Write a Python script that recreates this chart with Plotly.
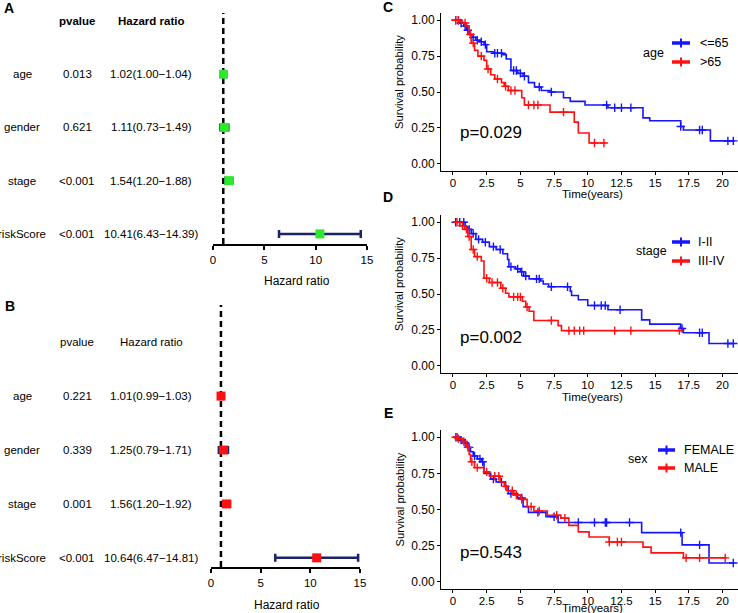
import bisect
import plotly.graph_objects as go

W, H = 738, 613

# ---------------- Data ----------------
variables = ["age", "gender", "stage", "riskScore"]

uni_pvalue = ["0.013", "0.621", "<0.001", "<0.001"]
uni_hr = [1.02, 1.11, 1.54, 10.41]
uni_lo = [1.00, 0.73, 1.20, 6.43]
uni_hi = [1.04, 1.49, 1.88, 14.39]

multi_pvalue = ["0.221", "0.339", "0.001", "<0.001"]
multi_hr = [1.01, 1.25, 1.56, 10.64]
multi_lo = [0.99, 0.79, 1.20, 6.47]
multi_hi = [1.03, 1.71, 1.92, 14.81]

forest_ticks = [0, 5, 10, 15]

km_tickvals = [0, 2.5, 5, 7.5, 10, 12.5, 15, 17.5, 20]
km_ticktext = ["0", "2.5", "5", "7.5", "10", "12.5", "15", "17.5", "20"]
surv_tickvals = [0, 0.25, 0.5, 0.75, 1.0]
surv_ticktext = ["0.00", "0.25", "0.50", "0.75", "1.00"]

# Panel C: age
age_le65_time = [0, 0.5, 0.8, 1.0, 1.2, 1.4, 1.7, 2.0, 2.3, 2.5, 3.0, 3.7, 3.95, 4.3, 4.8, 5.2, 5.6,
                 6.05, 6.55, 7.2, 8.2, 8.7, 9.8, 11.5, 14.1, 14.6, 16.9, 17.1, 19.1, 20.9]
age_le65_surv = [1.0, 0.98, 0.96, 0.93, 0.90, 0.88, 0.86, 0.85, 0.83, 0.78, 0.77, 0.76, 0.73, 0.65, 0.63,
                 0.61, 0.565, 0.535, 0.51, 0.50, 0.46, 0.435, 0.41, 0.39, 0.32, 0.30, 0.26, 0.235, 0.16, 0.16]
age_le65_cens = [0.2, 0.4, 0.6, 0.9, 1.1, 1.5, 1.8, 2.1, 2.4, 3.1, 3.3, 3.6, 4.5, 4.7, 5.0, 5.3, 6.4,
                 7.3, 11.4, 12.0, 12.5, 13.2, 16.9, 18.3, 18.5, 20.4, 20.8]
age_gt65_time = [0, 0.5, 0.7, 1.0, 1.2, 1.35, 1.6, 1.85, 2.3, 2.5, 2.8, 3.1, 3.6, 3.8, 4.1, 5.1, 5.3,
                 7.2, 9.0, 9.3, 10.1, 11.3]
age_gt65_surv = [1.0, 0.99, 0.98, 0.96, 0.90, 0.84, 0.79, 0.75, 0.72, 0.66, 0.62, 0.59, 0.565, 0.54,
                 0.51, 0.46, 0.41, 0.36, 0.29, 0.215, 0.145, 0.145]
age_gt65_cens = [0.2, 0.4, 0.9, 1.3, 1.5, 2.1, 2.6, 3.3, 3.9, 4.3, 4.6, 5.6, 6.0, 6.3, 8.2, 10.5, 11.2]

# Panel D: stage
stage_12_time = [0, 0.9, 1.1, 1.35, 1.7, 2.2, 2.7, 3.2, 3.7, 4.05, 4.15, 4.65, 5.0, 5.25, 5.65, 6.5,
                 6.7, 7.1, 8.7, 8.8, 9.3, 10.0, 11.5, 14.0, 14.6, 16.9, 17.1, 19.0, 20.9]
stage_12_surv = [1.0, 0.97, 0.95, 0.92, 0.88, 0.86, 0.83, 0.81, 0.78, 0.74, 0.69, 0.675, 0.655, 0.625,
                 0.605, 0.59, 0.57, 0.55, 0.52, 0.49, 0.46, 0.42, 0.39, 0.32, 0.29, 0.26, 0.23, 0.155, 0.155]
stage_12_cens = [0.2, 0.5, 0.8, 1.2, 1.5, 1.9, 2.4, 3.0, 3.5, 4.3, 4.8, 5.1, 5.4, 6.2, 6.4, 7.3, 8.5,
                 10.5, 11.0, 11.3, 12.4, 17.0, 18.3, 18.5, 20.4, 20.8]
stage_34_time = [0, 0.5, 0.85, 1.1, 1.35, 1.6, 2.1, 2.3, 2.7, 3.55, 3.9, 4.15, 5.15, 5.4, 5.65, 6.0,
                 7.8, 8.05, 16.9]
stage_34_surv = [1.0, 0.975, 0.95, 0.90, 0.81, 0.76, 0.73, 0.61, 0.58, 0.54, 0.505, 0.48, 0.45, 0.41,
                 0.38, 0.315, 0.28, 0.245, 0.245]
stage_34_cens = [0.3, 0.7, 1.0, 1.2, 1.5, 1.8, 2.5, 2.9, 3.3, 3.7, 4.5, 4.8, 5.0, 5.5, 7.3, 8.6, 9.0,
                 9.4, 9.7, 12.0, 13.2, 16.8]

# Panel E: sex
female_time = [0, 0.5, 0.9, 1.1, 1.3, 1.5, 1.8, 2.1, 2.3, 2.8, 3.2, 3.9, 4.1, 4.8, 5.2, 5.6, 6.9, 7.8,
               14.0, 17.0, 19.0, 20.9]
female_surv = [1.0, 0.98, 0.96, 0.93, 0.90, 0.87, 0.85, 0.83, 0.75, 0.71, 0.69, 0.66, 0.61, 0.58, 0.52,
               0.48, 0.45, 0.41, 0.34, 0.255, 0.13, 0.13]
female_cens = [0.3, 0.6, 0.9, 1.2, 1.6, 2.0, 2.2, 3.0, 3.6, 4.3, 5.1, 6.3, 7.5, 9.3, 10.5, 11.3, 11.4,
               13.1, 16.9, 18.3, 20.8]
male_time = [0, 0.3, 0.7, 1.0, 1.2, 1.3, 1.6, 2.3, 2.7, 3.5, 3.8, 4.0, 4.5, 5.0, 5.5, 6.0, 7.0, 8.0,
             8.6, 9.3, 10.1, 11.6, 14.1, 14.7, 17.1, 20.3]
male_surv = [1.0, 0.99, 0.97, 0.93, 0.88, 0.83, 0.79, 0.76, 0.73, 0.69, 0.66, 0.63, 0.60, 0.57, 0.52,
             0.49, 0.46, 0.44, 0.39, 0.345, 0.31, 0.275, 0.24, 0.20, 0.165, 0.165]
male_cens = [0.2, 0.4, 0.8, 1.1, 1.4, 1.8, 2.5, 3.1, 3.4, 3.9, 4.4, 4.7, 5.1, 5.8, 6.4, 7.7, 8.3, 11.6,
             12.2, 12.5, 17.3, 18.3, 20.2]

p_values = ["p=0.029", "p=0.002", "p=0.543"]

# ---------------- Styles ----------------
FONT = "Liberation Sans, Arial, sans-serif"
BLUE = "#1515ff"
RED = "#ff1010"
GREEN = "#2ee82e"
NAVY = "#1b2266"


def px(x):
    return x / W


def py(y):
    return 1 - y / H


def esc(s):
    return s.replace("<", "&lt;").replace(">", "&gt;")


def surv_at(times, surv, t):
    i = bisect.bisect_right(times, t) - 1
    return surv[max(i, 0)]


fig = go.Figure()
annotations = []
shapes = []

# ---------------- Forest plots ----------------
forest_specs = [
    dict(xa="x", ya="y", hr=uni_hr, lo=uni_lo, hi=uni_hi, p=uni_pvalue, color=GREEN, bold=True),
    dict(xa="x2", ya="y2", hr=multi_hr, lo=multi_lo, hi=multi_hi, p=multi_pvalue, color=RED, bold=False),
]
n = len(variables)
rows = [n - i for i in range(n)]
for spec in forest_specs:
    hr, lo, hi = spec["hr"], spec["lo"], spec["hi"]
    fig.add_trace(go.Scatter(
        x=hr, y=rows, mode="markers", xaxis=spec["xa"], yaxis=spec["ya"], showlegend=False,
        cliponaxis=False,
        marker=dict(symbol="square", size=9, color=spec["color"]),
        error_x=dict(type="data", symmetric=False,
                     array=[h - m for h, m in zip(hi, hr)],
                     arrayminus=[m - l for m, l in zip(hr, lo)],
                     color=NAVY, thickness=2.5, width=4),
    ))
    shapes.append(dict(type="line", xref=spec["xa"], yref=spec["ya"] + " domain", x0=1, x1=1, y0=0, y1=1,
                       line=dict(color="black", width=2.5, dash="6px,4px"), layer="below"))
    hdr = (lambda s: "<b>" + s + "</b>") if spec["bold"] else (lambda s: s)
    for xpos, txt in [(77, hdr("pvalue")), (151, hdr("Hazard ratio"))]:
        annotations.append(dict(xref="paper", yref=spec["ya"], x=px(xpos), y=5.0, text=txt, showarrow=False,
                                xanchor="center", yanchor="middle", font=dict(size=11.5, color="black")))
    for i, v in enumerate(variables):
        r = rows[i]
        annotations.append(dict(xref="paper", yref=spec["ya"], x=px(22), y=r, text=v, showarrow=False,
                                xanchor="center", yanchor="middle", font=dict(size=11.5, color="black")))
        annotations.append(dict(xref="paper", yref=spec["ya"], x=px(77), y=r, text=esc(spec["p"][i]),
                                showarrow=False, xanchor="center", yanchor="middle",
                                font=dict(size=11.5, color="black")))
        hrtxt = f"{hr[i]:.2f}({lo[i]:.2f}\u2212{hi[i]:.2f})"
        annotations.append(dict(xref="paper", yref=spec["ya"], x=px(151), y=r, text=hrtxt, showarrow=False,
                                xanchor="center", yanchor="middle", font=dict(size=11.5, color="black")))

# forest axis titles
annotations.append(dict(xref="paper", yref="paper", x=px(297), y=py(281), text="Hazard ratio",
                        showarrow=False, xanchor="center", yanchor="middle", font=dict(size=12, color="black")))
annotations.append(dict(xref="paper", yref="paper", x=px(287), y=py(605), text="Hazard ratio",
                        showarrow=False, xanchor="center", yanchor="middle", font=dict(size=12, color="black")))

# ---------------- KM plots ----------------
km_specs = [
    dict(xa="x3", ya="y3", title="age",
         groups=[("<=65", age_le65_time, age_le65_surv, age_le65_cens, BLUE),
                 (">65", age_gt65_time, age_gt65_surv, age_gt65_cens, RED)]),
    dict(xa="x4", ya="y4", title="stage",
         groups=[("I-II", stage_12_time, stage_12_surv, stage_12_cens, BLUE),
                 ("III-IV", stage_34_time, stage_34_surv, stage_34_cens, RED)]),
    dict(xa="x5", ya="y5", title="sex",
         groups=[("FEMALE", female_time, female_surv, female_cens, BLUE),
                 ("MALE", male_time, male_surv, male_cens, RED)]),
]
for spec in km_specs:
    for name, t, s, c, col in spec["groups"]:
        fig.add_trace(go.Scatter(x=t, y=s, mode="lines", line=dict(color=col, width=1.6, shape="hv"),
                                 xaxis=spec["xa"], yaxis=spec["ya"], showlegend=False, name=name))
        fig.add_trace(go.Scatter(x=c, y=[surv_at(t, s, ct) for ct in c], mode="markers",
                                 marker=dict(symbol="cross-thin", size=6, line=dict(color=col, width=1.4)),
                                 xaxis=spec["xa"], yaxis=spec["ya"], showlegend=False, name=name))

# ---------------- Layout ----------------
def forest_x(dom):
    return dict(domain=dom, range=[0, 15], tickvals=forest_ticks, ticks="outside", ticklen=4, tickwidth=1.5,
                tickcolor="black", showline=True, linecolor="black", linewidth=1.5, showgrid=False,
                zeroline=False, tickfont=dict(size=11.5, color="black"))


def forest_y(dom, rng):
    return dict(domain=dom, range=rng, visible=False, showgrid=False, zeroline=False)


def km_x(anchor):
    return dict(domain=[px(441), 1.0], range=[-0.89, 21.15], tickvals=km_tickvals, ticktext=km_ticktext,
                ticks="outside", ticklen=3, tickcolor="black", tickwidth=1, showline=True, linecolor="black",
                linewidth=1, showgrid=False, zeroline=False, tickfont=dict(size=11.5, color="black"),
                ticklabelstandoff=-2, anchor=anchor)


def km_y(dom, anchor):
    return dict(domain=dom, range=[-0.05, 1.05], tickvals=surv_tickvals, ticktext=surv_ticktext,
                ticks="outside", ticklen=3, tickcolor="black", tickwidth=1, showline=True, linecolor="black",
                linewidth=1, showgrid=False, zeroline=False, tickfont=dict(size=12, color="black"),
                anchor=anchor)


# positions (pixels) of each KM panel's decorations
km_layout = [
    dict(top=13, bot=171, tx=653, ty=53, pyv=133, letter="C", ly=7, timey=194,
         kx0=672, kx1=690, ky=[43, 62], lblx=698),
    dict(top=215, bot=373, tx=651, ty=251, pyv=337, letter="D", ly=197, timey=397,
         kx0=672, kx1=690, ky=[242, 261], lblx=696),
    dict(top=430, bot=589, tx=638, ty=459, pyv=552, letter="E", ly=413, timey=608,
         kx0=658, kx1=675, ky=[450, 468], lblx=682),
]
for k, spec, pv in zip(km_layout, km_specs, p_values):
    annotations.append(dict(xref="paper", yref="paper", x=px(k["tx"]), y=py(k["ty"]), text=spec["title"],
                            showarrow=False, xanchor="center", yanchor="middle",
                            font=dict(size=12.5, color="black")))
    # legend keys (line with censor cross) and labels
    for (name, t, s, c, col), ky in zip(spec["groups"], k["ky"]):
        xm = (k["kx0"] + k["kx1"]) / 2
        shapes.append(dict(type="line", xref="paper", yref="paper", x0=px(k["kx0"]), x1=px(k["kx1"]),
                           y0=py(ky), y1=py(ky), line=dict(color=col, width=3.5)))
        shapes.append(dict(type="line", xref="paper", yref="paper", x0=px(xm), x1=px(xm),
                           y0=py(ky - 4.5), y1=py(ky + 4.5), line=dict(color=col, width=2)))
        annotations.append(dict(xref="paper", yref="paper", x=px(k["lblx"]), y=py(ky), text=esc(name),
                                showarrow=False, xanchor="left", yanchor="middle",
                                font=dict(size=12.5, color="black")))
    annotations.append(dict(xref="paper", yref="paper", x=px(491), y=py(k["pyv"]), text=pv,
                            showarrow=False, xanchor="center", yanchor="middle",
                            font=dict(size=17, color="black")))
    annotations.append(dict(xref="paper", yref="paper", x=px(388), y=py(k["ly"]), text="<b>" + k["letter"] + "</b>",
                            showarrow=False, xanchor="center", yanchor="middle",
                            font=dict(size=14, color="black")))
    annotations.append(dict(xref="paper", yref="paper", x=px(592), y=py(k["timey"]), text="Time(years)",
                            showarrow=False, xanchor="center", yanchor="middle",
                            font=dict(size=11.5, color="black")))
    annotations.append(dict(xref="paper", yref="paper", x=px(399), y=py((k["top"] + k["bot"]) / 2 - 10),
                            text="Survival probability", textangle=-90, showarrow=False,
                            xanchor="center", yanchor="middle", font=dict(size=11.2, color="black")))

for letter, lx, ly in [("A", 9, 8), ("B", 10, 306)]:
    annotations.append(dict(xref="paper", yref="paper", x=px(lx), y=py(ly), text="<b>" + letter + "</b>",
                            showarrow=False, xanchor="center", yanchor="middle", font=dict(size=14, color="black")))

fig.update_layout(
    width=W, height=H, margin=dict(l=0, r=0, t=0, b=0, autoexpand=False),
    paper_bgcolor="white", plot_bgcolor="white", showlegend=False,
    font=dict(family=FONT, color="black"),
    xaxis=forest_x([px(213), px(367)]) | dict(anchor="y"),
    yaxis=forest_y([py(244), py(13)], [0.81, 5.15]) | dict(anchor="x"),
    xaxis2=forest_x([px(211), px(360)]) | dict(anchor="y2"),
    yaxis2=forest_y([py(567), py(305)], [0.83, 5.69]) | dict(anchor="x2"),
    xaxis3=km_x("y3"), yaxis3=km_y([py(171), py(13)], "x3"),
    xaxis4=km_x("y4"), yaxis4=km_y([py(373), py(215)], "x4"),
    xaxis5=km_x("y5"), yaxis5=km_y([py(589), py(430)], "x5"),
    annotations=annotations, shapes=shapes,
)

fig.write_html(
    "out.html",
    config={"displayModeBar": False},
    post_script="document.body.style.margin='0';document.body.style.padding='0';"
                "document.documentElement.style.overflow='hidden';",
)
